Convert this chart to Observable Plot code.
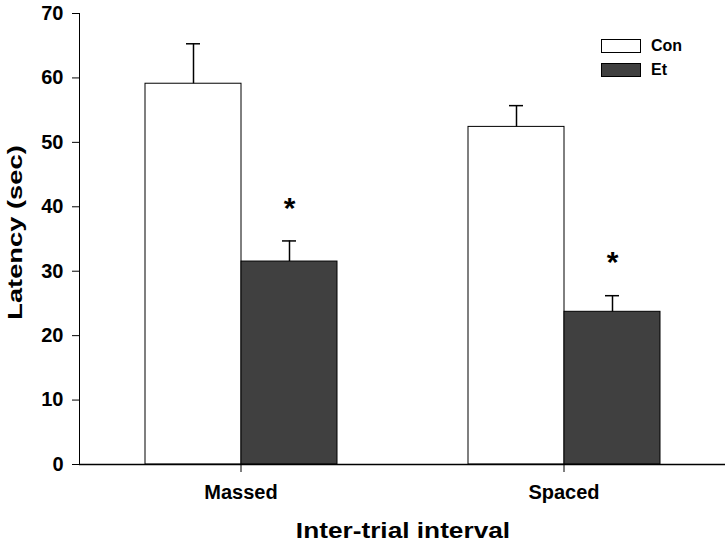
<!DOCTYPE html>
<html>
<head>
<meta charset="utf-8">
<script src="https://cdn.jsdelivr.net/npm/d3@7"></script>
<script src="https://cdn.jsdelivr.net/npm/@observablehq/plot@0.6"></script>
<style>
  html, body { margin: 0; padding: 0; background: #fff; font-family: "Liberation Sans", Arial, sans-serif; overflow: hidden; }
  #wrap { position: relative; width: 726px; height: 546px; overflow: hidden; }
  #chart { position: absolute; left: 0; top: 0; }
  .lg-box { position: absolute; left: 601px; width: 40px; box-sizing: border-box; border: 1px solid #000; }
  .lg-txt { position: absolute; left: 651px; font-size: 16px; font-weight: bold; line-height: 18px; color: #000; }
  #xlabel { position: absolute; left: 0; width: 806px; top: 518px; height: 26px; text-align: center; font-size: 21.5px; font-weight: bold; line-height: 26px; color: #000; transform: scaleX(1.22); transform-origin: 50% 50%; white-space: nowrap; }
  #ylabel { position: absolute; left: -136px; top: 219px; width: 300px; height: 27px; line-height: 27px; text-align: center; font-size: 21px; font-weight: bold; color: #000; transform: rotate(-90deg) scaleX(1.3); transform-origin: 50% 50%; white-space: nowrap; }
</style>
</head>
<body>
<div id="wrap">
  <div id="chart"></div>
  <div class="lg-box" style="top:39px;height:14px;background:#fff"></div>
  <div class="lg-txt" style="top:37px">Con</div>
  <div class="lg-box" style="top:63px;height:14px;background:#404040"></div>
  <div class="lg-txt" style="top:61px">Et</div>
  <div id="xlabel">Inter-trial interval</div>
  <div id="ylabel">Latency (sec)</div>
</div>
<script>
// ---- data ----
const groups = ["Massed", "Spaced"];
const series = ["Con", "Et"];
const conMeans = [59.1, 52.4];
const conSEM = [6.2, 3.3];
const etMeans = [31.5, 23.7];
const etSEM = [3.2, 2.5];
const sigMarkerY = [39.8, 31.3];   // asterisk positions above the Et bars
const yTicks = [0, 10, 20, 30, 40, 50, 60, 70];
const seriesColors = ["#ffffff", "#404040"];

const rows = [];
groups.forEach((g, i) => {
  rows.push({group: g, series: "Con", mean: conMeans[i], sem: conSEM[i]});
  rows.push({group: g, series: "Et", mean: etMeans[i], sem: etSEM[i]});
});
const sigRows = groups.map((g, i) => ({group: g, series: "Et", y: sigMarkerY[i]}));

const chart = Plot.plot({
  width: 726,
  height: 510,
  marginLeft: 79,
  marginRight: 1,
  marginTop: 13,
  marginBottom: 46,
  style: {fontFamily: "'Liberation Sans', Arial, sans-serif", fontSize: "20px", fontWeight: "bold", color: "#000", background: "#fff"},
  fx: {domain: groups, padding: 0, label: null, tickSize: 8, tickPadding: 12},
  x: {domain: series, axis: null, paddingInner: 0, paddingOuter: 0.67},
  y: {domain: [0, 70], ticks: yTicks, label: null, tickSize: 7, tickPadding: 9, line: true},
  color: {domain: series, range: seriesColors},
  marks: [
    Plot.barY(rows, {fx: "group", x: "series", y: "mean", fill: "series", stroke: "#000", strokeWidth: 1}),
    Plot.ruleX(rows, {fx: "group", x: "series", y1: "mean", y2: d => d.mean + d.sem, stroke: "#000", strokeWidth: 1.5}),
    Plot.tickY(rows, {fx: "group", x: "series", y: d => d.mean + d.sem, insetLeft: 41, insetRight: 41, stroke: "#000", strokeWidth: 1.5}),
    Plot.text(sigRows, {fx: "group", x: "series", y: "y", text: () => "*", fontSize: 30, fontWeight: "bold", fill: "#000"}),
    Plot.ruleY([0], {stroke: "#000", strokeWidth: 1.5})
  ]
});
document.getElementById("chart").appendChild(chart);
</script>
</body>
</html>
